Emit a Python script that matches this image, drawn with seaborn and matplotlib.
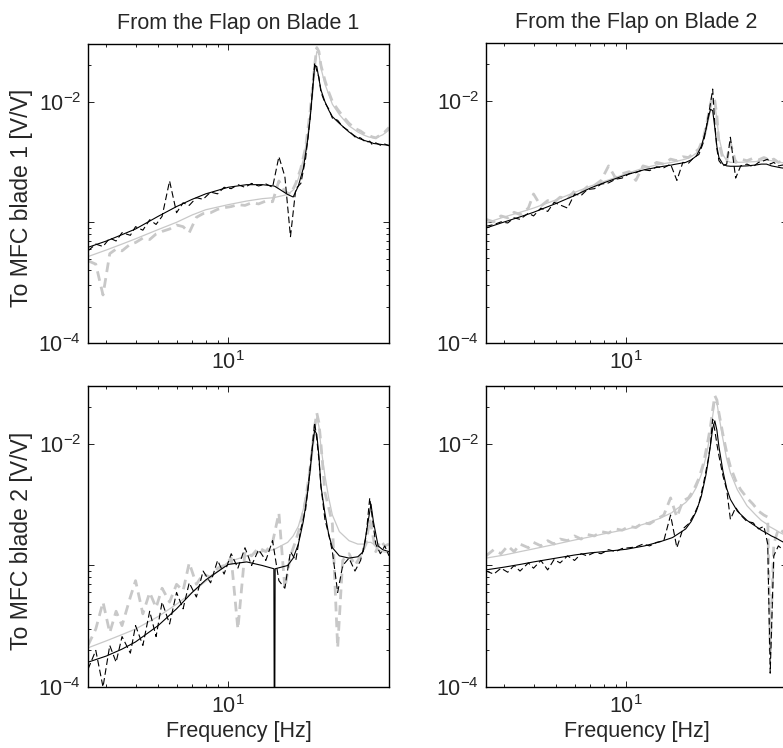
import numpy as np
import matplotlib
matplotlib.use("Agg")
import matplotlib.pyplot as plt
from matplotlib.ticker import NullFormatter
import seaborn as sns

# Frequency grids [Hz]
freq_fit = [2.5, 3, 3.5, 4, 5, 6, 7, 8, 10, 12, 14, 15.7, 15.8, 15.9, 18, 19, 20, 21, 22, 22.5,
            23, 23.5, 24, 24.5, 25, 26, 27, 28, 30, 33, 36, 38, 40, 41, 42, 44, 46, 49]
freq_meas = [2.5, 2.7, 2.9, 3.1, 3.3, 3.5, 3.8, 4.0, 4.3, 4.6, 4.9, 5.2, 5.6, 6.0, 6.4, 6.8, 7.3, 7.8,
             8.4, 9.0, 9.6, 10.3, 11.0, 11.8, 12.6, 13.5, 14.5, 15.5, 16.5, 17.5, 18.5, 19.5, 20.5,
             21.5, 22.5, 23.0, 23.5, 24.0, 24.5, 25.0, 26.0, 27.0, 28.0, 29.5, 31.0, 33.0, 35.0,
             37.0, 39.0, 40.5, 41.5, 43.0, 45.0, 47.0, 49.0]

# magnitudes in units of 1e-3 V/V
# flap 1 -> MFC blade 1
fit_black_11 = [0.62, 0.70, 0.79, 0.88, 1.12, 1.35, 1.55, 1.72, 1.95, 2.05, 2.05, 2.0, 1.99, 1.98, 1.7,
                1.62, 2.0, 2.8, 5.0, 7.5, 12, 20, 19.5, 15.5, 12.5, 10, 8.5, 7.5, 6.6, 5.6, 5.0, 4.8,
                4.65, 4.6, 4.5, 4.45, 4.4, 4.35]
fit_gray_11 = [0.52, 0.59, 0.66, 0.73, 0.87, 1.0, 1.15, 1.27, 1.4, 1.5, 1.57, 1.6, 1.6, 1.61, 1.7, 1.85,
               2.3, 3.3, 5.5, 8.0, 12.5, 19, 26, 25, 19, 14, 11.5, 9.5, 7.8, 6.3, 5.6, 5.3, 5.1, 5.05,
               5.0, 5.1, 5.3, 5.8]
meas_black_11 = [0.58, 0.66, 0.63, 0.74, 0.70, 0.82, 0.78, 0.92, 0.86, 1.05, 0.96, 1.12, 2.2, 1.2, 1.45,
                 1.38, 1.6, 1.55, 1.78, 1.72, 1.95, 1.9, 2.05, 1.95, 2.1, 2.0, 2.08, 1.95, 3.5, 2.4,
                 0.76, 1.9, 2.1, 3.4, 7.5, 12.5, 21, 18, 16, 12, 9.8, 8.7, 7.3, 7.0, 6.2, 5.7, 5.1,
                 5.0, 4.6, 4.7, 4.4, 4.55, 4.35, 4.45, 4.3]
meas_gray_11 = [0.48, 0.45, 0.25, 0.55, 0.6, 0.58, 0.66, 0.68, 0.74, 0.72, 0.8, 0.84, 0.88, 0.95, 0.92,
                0.82, 1.1, 1.18, 1.2, 1.28, 1.32, 1.35, 1.4, 1.38, 1.45, 1.42, 1.5, 1.48, 2.2, 1.8,
                1.7, 2.1, 2.8, 4.2, 8.5, 13, 20, 28, 26, 20, 15, 12, 10, 8.6, 7.6, 6.6, 6.0, 5.7,
                5.3, 5.2, 5.1, 5.0, 5.3, 5.6, 6.1]

# flap 2 -> MFC blade 1
fit_black_21 = [0.89, 1.0, 1.1, 1.2, 1.42, 1.65, 1.9, 2.1, 2.45, 2.7, 2.85, 2.95, 2.96, 2.97, 3.1, 3.25,
                3.5, 4.2, 5.8, 7.2, 8.5, 8.3, 6.0, 4.2, 3.4, 3.0, 2.9, 2.88, 2.88, 2.9, 2.95, 3.0,
                3.0, 2.95, 2.9, 2.85, 2.8, 2.75]
fit_gray_21 = [0.98, 1.1, 1.2, 1.3, 1.52, 1.75, 1.97, 2.15, 2.5, 2.8, 3.0, 3.1, 3.11, 3.12, 3.3, 3.45,
               3.7, 4.2, 5.5, 6.8, 8.5, 10, 9.5, 7.0, 5.0, 3.6, 3.2, 3.1, 3.1, 3.12, 3.15, 3.2, 3.25,
               3.22, 3.2, 3.15, 3.1, 3.05]
meas_black_21 = [0.92, 0.95, 1.0, 0.98, 1.08, 1.05, 1.18, 1.12, 1.3, 1.22, 1.45, 1.38, 1.3, 1.7, 1.65,
                 1.85, 1.88, 2.05, 2.1, 2.25, 2.3, 2.5, 2.55, 2.7, 2.65, 2.85, 2.8, 3.0, 2.2, 3.1,
                 3.05, 3.4, 3.6, 4.6, 7.5, 9.5, 12.5, 6.5, 4.0, 3.2, 2.9, 3.0, 5.0, 2.3, 2.9, 3.0,
                 2.85, 3.1, 3.2, 3.3, 3.0, 3.1, 2.9, 2.95, 2.8]
meas_gray_21 = [1.05, 1.0, 1.12, 1.08, 1.2, 1.15, 1.3, 1.7, 1.35, 1.5, 1.45, 1.6, 1.55, 1.8, 1.75, 1.95,
                2.0, 2.2, 2.9, 2.3, 2.5, 2.6, 2.2, 2.9, 2.8, 3.1, 3.0, 3.3, 3.2, 3.45, 3.4, 3.7, 4.0,
                5.0, 7.5, 9.5, 11, 10, 7.5, 4.5, 3.3, 3.2, 4.5, 3.1, 3.3, 3.2, 3.35, 3.25, 3.4, 3.3,
                3.2, 3.3, 3.1, 3.2, 3.1]

# flap 1 -> MFC blade 2
fit_black_12 = [0.16, 0.18, 0.205, 0.235, 0.32, 0.44, 0.6, 0.76, 1.02, 1.07, 1.0, 0.94, 0.01, 0.94, 1.0,
                1.15, 1.5, 2.3, 4.2, 6.2, 9.5, 13, 12, 8.0, 4.5, 2.7, 1.8, 1.4, 1.2, 1.15, 1.18, 1.3,
                2.4, 3.2, 2.3, 1.45, 1.35, 1.3]
fit_gray_12 = [0.21, 0.24, 0.27, 0.30, 0.38, 0.48, 0.6, 0.74, 1.07, 1.2, 1.3, 1.35, 1.36, 1.37, 1.55,
               1.75, 2.1, 2.9, 4.6, 6.2, 8.8, 13, 16.5, 14, 9.5, 5.5, 3.6, 2.6, 1.9, 1.6, 1.5, 1.5,
               1.55, 1.55, 1.5, 1.35, 1.3, 1.27]
meas_black_12 = [0.14, 0.2, 0.1, 0.22, 0.16, 0.26, 0.19, 0.32, 0.22, 0.42, 0.26, 0.5, 0.33, 0.6, 0.44,
                 0.72, 0.55, 0.9, 0.72, 1.1, 0.85, 1.25, 0.95, 1.4, 1.0, 1.35, 1.1, 1.6, 0.75, 0.65,
                 1.3, 1.1, 2.0, 2.9, 6.5, 10, 15, 11, 7.5, 4.5, 2.4, 1.8, 1.3, 0.6, 1.0, 1.15, 0.9,
                 1.1, 1.7, 3.6, 2.5, 1.5, 1.25, 1.45, 1.2]
meas_gray_12 = [0.22, 0.3, 0.5, 0.28, 0.42, 0.32, 0.55, 0.75, 0.4, 0.6, 0.45, 0.65, 0.5, 0.7, 0.62, 1.05,
                0.7, 0.85, 0.8, 0.95, 1.0, 1.15, 0.3, 1.3, 1.2, 1.4, 1.3, 1.55, 2.7, 0.65, 1.2, 1.6,
                2.2, 3.5, 6.5, 9.5, 14, 18, 15, 10, 4.0, 3.0, 2.2, 0.21, 1.1, 1.25, 1.0, 1.2, 1.5,
                2.4, 1.9, 1.3, 1.6, 1.45, 1.5]

# flap 2 -> MFC blade 2
fit_black_22 = [0.92, 0.97, 1.02, 1.07, 1.15, 1.22, 1.27, 1.3, 1.36, 1.45, 1.57, 1.69, 1.7, 1.71, 2.0,
                2.3, 2.8, 3.7, 5.6, 7.3, 9.8, 13.5, 15.5, 13, 9.5, 6.0, 4.3, 3.5, 2.8, 2.35, 2.1,
                1.95, 1.85, 1.8, 1.75, 1.68, 1.6, 1.5]
fit_gray_22 = [1.15, 1.22, 1.3, 1.37, 1.5, 1.62, 1.72, 1.82, 1.98, 2.2, 2.45, 2.72, 2.75, 2.78, 3.3, 3.7,
               4.4, 5.6, 7.8, 9.8, 12.5, 17, 22, 22, 17, 11, 7.5, 5.8, 4.2, 3.1, 2.6, 2.35, 2.2, 2.1,
               2.05, 1.95, 1.85, 1.75]
meas_black_22 = [0.9, 0.85, 0.95, 0.88, 1.0, 0.9, 1.05, 0.95, 1.1, 0.92, 1.12, 1.05, 1.2, 1.1, 1.25, 1.2,
                 1.28, 1.25, 1.35, 1.3, 1.38, 1.4, 1.42, 1.5, 1.45, 1.55, 1.6, 2.6, 1.4, 2.0, 2.2,
                 2.6, 3.2, 4.8, 7.5, 10, 16, 13, 10, 8.0, 5.5, 4.2, 2.4, 3.0, 2.6, 2.3, 2.25, 2.0,
                 2.1, 1.5, 0.13, 1.2, 1.45, 1.35, 1.4]
meas_gray_22 = [1.2, 1.35, 1.25, 1.45, 1.3, 1.5, 1.4, 1.55, 1.45, 1.6, 1.5, 1.65, 1.6, 1.75, 1.65, 1.8,
                1.75, 1.9, 1.85, 2.0, 1.95, 2.1, 2.05, 2.25, 2.2, 2.4, 2.6, 3.6, 2.5, 3.4, 3.6, 4.2,
                5.2, 7.0, 11, 14, 19, 25, 23, 18, 12, 8.5, 6.5, 5.0, 4.2, 3.6, 3.2, 2.8, 2.6, 2.5,
                0.2, 1.5, 2.0, 1.9, 1.85]

titles = ["From the Flap on Blade 1", "From the Flap on Blade 2"]
ylabels = ["To MFC blade 1 [V/V]", "To MFC blade 2 [V/V]"]

panels = [
    [(fit_black_11, fit_gray_11, meas_black_11, meas_gray_11),
     (fit_black_21, fit_gray_21, meas_black_21, meas_gray_21)],
    [(fit_black_12, fit_gray_12, meas_black_12, meas_gray_12),
     (fit_black_22, fit_gray_22, meas_black_22, meas_gray_22)],
]

sns.set_style("ticks")
plt.rcParams["font.family"] = ["Liberation Sans", "DejaVu Sans"]
plt.rcParams["mathtext.fontset"] = "custom"
plt.rcParams["mathtext.rm"] = "Liberation Sans"
plt.rcParams["mathtext.it"] = "Liberation Sans:italic"
plt.rcParams["mathtext.bf"] = "Liberation Sans:bold"

FS = 15.5
GRAY = "#c8c8c8"

fig = plt.figure(figsize=(7.83, 7.48), dpi=100)
W, H = 783, 748
boxes = [[(88, 44, 301, 299), (486, 43, 301, 300)],
         [(88, 386, 301, 301), (486, 386, 301, 301)]]

for r in range(2):
    for c in range(2):
        x0, y0, w, h = boxes[r][c]
        ax = fig.add_axes([x0 / W, 1 - (y0 + h) / H, w / W, h / H])
        fb, fg, mb, mg = panels[r][c]
        f_fit = np.array(freq_fit)
        f_meas = np.array(freq_meas)
        sns.lineplot(x=f_meas, y=np.array(mg) * 1e-3, ax=ax, color=GRAY, linewidth=2.0,
                     linestyle=(0, (3.5, 2.2)), estimator=None, sort=False)
        sns.lineplot(x=f_fit, y=np.array(fg) * 1e-3, ax=ax, color=GRAY, linewidth=0.9,
                     estimator=None, sort=False)
        sns.lineplot(x=f_meas, y=np.array(mb) * 1e-3, ax=ax, color="black", linewidth=0.8,
                     linestyle=(0, (6, 3)), estimator=None, sort=False)
        sns.lineplot(x=f_fit, y=np.array(fb) * 1e-3, ax=ax, color="black", linewidth=0.8,
                     estimator=None, sort=False)

        ax.set_xscale("log")
        ax.set_yscale("log")
        ax.set_xlim(2.5, 49)
        ax.set_ylim(1e-4, 3e-2)
        ax.set_xticks([10], ["$10^1$"])
        ax.set_xticks([3, 4, 5, 6, 7, 8, 9], minor=True)
        ax.xaxis.set_minor_formatter(NullFormatter())
        ax.set_yticks([1e-4, 1e-3, 1e-2], ["$10^{-4}$", "", "$10^{-2}$"])
        ax.set_yticks([2e-4, 3e-4, 4e-4, 5e-4, 6e-4, 7e-4, 8e-4, 9e-4, 2e-2, 3e-2], minor=True)
        ax.yaxis.set_minor_formatter(NullFormatter())
        ax.tick_params(which="both", direction="in", top=True, right=True,
                       labelsize=FS, width=0.6, color="black")
        ax.tick_params(which="major", length=4)
        ax.tick_params(which="minor", length=2.5)
        ax.tick_params(axis="x", pad=6)
        ax.tick_params(axis="y", pad=5)
        for sp in ax.spines.values():
            sp.set_linewidth(1.0)
            sp.set_color("black")
        ax.set_xlabel("")
        ax.set_ylabel("")
        if r == 0:
            ax.set_title(titles[c], fontsize=FS, pad=11)
        else:
            ax.set_xlabel("Frequency [Hz]", fontsize=FS, labelpad=2)
        if c == 0:
            ax.set_ylabel(ylabels[r], fontsize=16.6)
            ax.yaxis.set_label_coords(-0.183, 0.485)

fig.savefig("out.png", dpi=100)
